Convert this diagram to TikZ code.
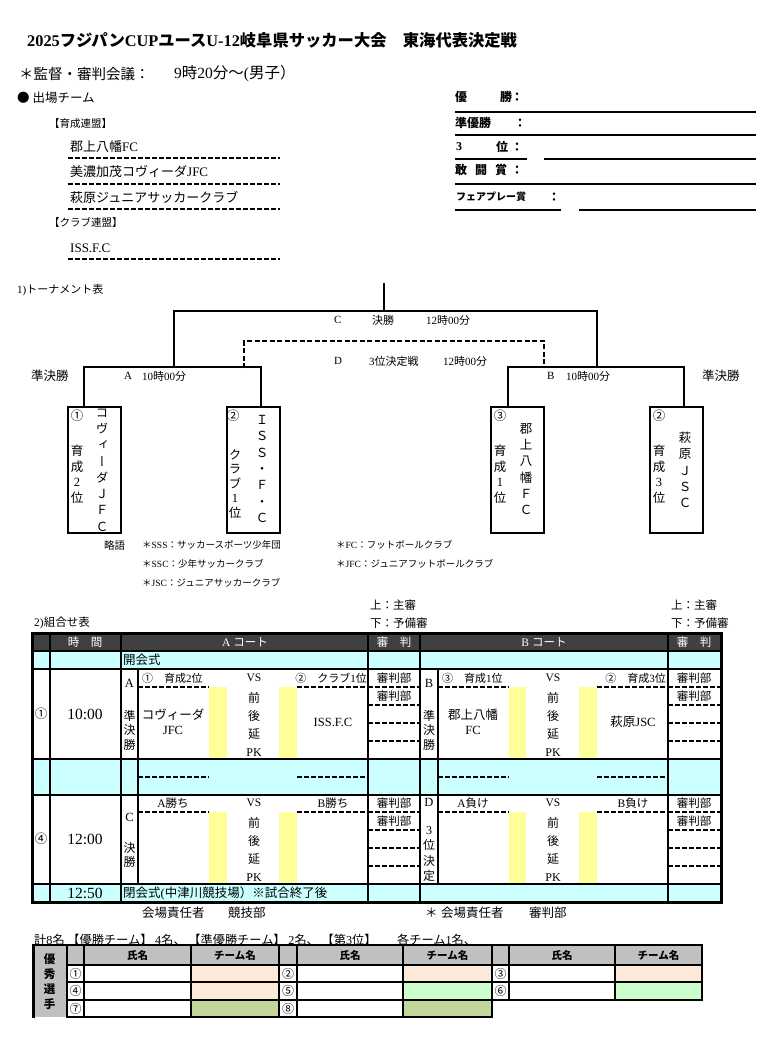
\documentclass[tikz,border=0pt]{standalone}
\usepackage{fontspec}
\setmainfont{Liberation Serif}
\newfontfamily\jpfont{Noto Sans CJK JP}
\newfontfamily\jpvfont[RawFeature=+vert]{Noto Sans CJK JP}
\let\cjksw\jpfont
\XeTeXinterchartokenstate=1
\newXeTeXintercharclass\cjkcls
\newcount\cjkcc
\def\setcls#1#2{\cjkcc=#1\relax\loop\XeTeXcharclass\cjkcc=\cjkcls\relax\ifnum\cjkcc<#2\advance\cjkcc by 1\relax\repeat}
\setcls{"3000}{"30FF}
\setcls{"4E00}{"9FFF}
\setcls{"FF01}{"FF60}
\setcls{"2460}{"24FF}
\setcls{"25A0}{"25FF}
\XeTeXcharclass"203B=\cjkcls
\XeTeXinterchartoks 0 \cjkcls={\cjksw}
\XeTeXinterchartoks 4095 \cjkcls={\cjksw}
\XeTeXinterchartoks \cjkcls 0={\rmfamily}
\XeTeXinterchartoks 4095 0={\rmfamily}
\newcommand\fz[1]{\fontsize{#1}{#1}\selectfont}
\newcommand\fzl[2]{\fontsize{#1}{#2}\selectfont}
\definecolor{cyanbg}{HTML}{CCFFFF}
\definecolor{hdr}{HTML}{404040}
\definecolor{ylw}{HTML}{FFFF99}
\definecolor{gry}{HTML}{C0C0C0}
\definecolor{peach}{HTML}{FDE9D9}
\definecolor{lgrn}{HTML}{CCFFCC}
\definecolor{olv}{HTML}{C4D79B}
\begin{document}
\begin{tikzpicture}[x=1pt,y=-1pt,
  tx/.style={inner sep=0pt,anchor=west},
  tr/.style={inner sep=0pt,anchor=east},
  tc/.style={inner sep=0pt},
  vt/.style={inner sep=0pt,align=center},
  bk/.style={line width=2pt},
  dsh/.style={line width=1.6pt,dash pattern=on 5pt off 2pt},
  tbox/.style={draw,line width=2pt,minimum width=53pt,minimum height=126pt,inner sep=0pt},
  tl/.style={line width=2pt},
  wt/.style={inner sep=0pt,text=white,font=\fz{11.5}}]
\useasboundingbox (0,0) rectangle (772,1038);
\fill[white] (0,0) rectangle (772,1038);

% ---------- header ----------
\node[tx,font=\bfseries\fz{16.3}] (title) at (27,40) {2025フジパンCUPユースU-12岐阜県サッカー大会　東海代表決定戦};
\node[tx,font=\fz{14.5}] (meet) at (19,74) {＊監督・審判会議：};
\node[tx,font=\fz{15.5}] (meett) at (174,74) {9時20分～(男子）};
\node[tx,font=\fz{12.5}] (teams) at (17,98) {● 出場チーム};
\node[tx,font=\fz{10.5}] (ikusei) at (49,124) {【育成連盟】};
\node[tx,font=\fz{13}] (t1) at (70,147) {郡上八幡FC};
\node[tx,font=\fz{13}] (t2) at (70,172) {美濃加茂コヴィーダJFC};
\node[tx,font=\fz{13}] (t3) at (70,197) {萩原ジュニアサッカークラブ};
\node[tx,font=\fz{10.5}] (club) at (49,222) {【クラブ連盟】};
\node[tx,font=\fz{13}] (t4) at (70,248) {ISS.F.C};
\draw[dsh] foreach \y in {158,184,209,259} {(68,\y) -- (280,\y)};

% awards
\begin{scope}[every node/.style={inner sep=0pt,anchor=west,font=\bfseries\fz{12}}]
\node (aw1a) at (455,97) {優};
\node (aw1b) at (500,97) {勝};
\node (aw1c) at (511,97) {：};
\node (aw2a) at (455,123) {準優勝};
\node (aw2c) at (514,123) {：};
\node (aw3a) at (456,147) {3};
\node (aw3b) at (496,147) {位};
\node (aw3c) at (511,147) {：};
\node (aw4a) at (455,170) {敢};
\node (aw4b) at (475,170) {闘};
\node (aw4c) at (495,170) {賞};
\node (aw4d) at (511,170) {：};
\node[font=\bfseries\fz{10}] (aw5a) at (456,197) {フェアプレー賞};
\node (aw5c) at (548,197) {：};
\end{scope}
\draw[line width=1.3pt] (455,112) -- (756,112) (455,135) -- (756,135)
  (455,159) -- (527,159) (544,159) -- (756,159) (455,184) -- (756,184)
  (455,210) -- (561,210) (579,210) -- (756,210);

% ---------- tournament ----------
\node[tx,font=\fz{11}] (trn) at (17,290) {1)トーナメント表};
\node[tbox] (b1) at (94.5,470) {};
\node[tbox] (b2) at (253,470) {};
\node[tbox] (b3) at (517.5,470) {};
\node[tbox] (b4) at (676.5,470) {};
\coordinate (fin) at (384,283);
\coordinate (cC) at (384,311);
\coordinate (sA) at (174,368);
\coordinate (sB) at (597,368);
\coordinate (dA) at (244,368);
\coordinate (dB) at (544,368);
\draw[bk] ([xshift=17pt]b1.north west) -- ++(0,-39) -| ([xshift=35pt]b2.north west);
\draw[bk] ([xshift=18pt]b3.north west) -- ++(0,-39) -| ([xshift=35pt]b4.north west);
\draw[bk] (sA) |- (cC) -| (sB);
\draw[bk] (fin) -- (cC);
\draw[line width=2pt,dash pattern=on 5pt off 2.5pt] (dA) -- ++(0,-27) -| (dB);

\begin{scope}[every node/.style={inner sep=0pt,anchor=west,font=\fz{11}}]
\node (lC) at (334,320) {C};
\node (lCf) at (372,320) {決勝};
\node (lCt) at (426,320) {12時00分};
\node (lD) at (334,361) {D};
\node (lDf) at (369,361) {3位決定戦};
\node (lDt) at (443,361) {12時00分};
\node[font=\fz{12.5}] (sfL) at (31,376) {準決勝};
\node[font=\fz{12.5}] (sfR) at (702,376) {準決勝};
\node (lA) at (124,376) {A};
\node (lAt) at (142,376) {10時00分};
\node (lB) at (547,376) {B};
\node (lBt) at (566,376) {10時00分};
\end{scope}

\begin{scope}[every node/.style={inner sep=0pt,align=center,font={\fzl{12.5}{16.3}\let\cjksw\jpvfont}}]
\node (n1) at (77,416) {①};
\node[font={\fzl{12.5}{15.5}\let\cjksw\jpvfont}] (b1l) at (77,474) {育\\成\\2\\位};
\node (b1r) at (102,470) {コ\\ヴ\\ィ\\ー\\ダ\\Ｊ\\Ｆ\\Ｃ};
\node (n2) at (233,416) {②};
\node[font={\fzl{12.5}{14.5}\let\cjksw\jpvfont}] (b2l) at (235,484) {ク\\ラ\\ブ\\1\\位};
\node (b2r) at (262,469) {Ｉ\\Ｓ\\Ｓ\\・\\Ｆ\\・\\Ｃ};
\node (n3) at (500,416) {③};
\node[font={\fzl{12.5}{15.5}\let\cjksw\jpvfont}] (b3l) at (500,474) {育\\成\\1\\位};
\node (b3r) at (526,469) {郡\\上\\八\\幡\\Ｆ\\Ｃ};
\node (n4) at (659,416) {②};
\node[font={\fzl{12.5}{15.5}\let\cjksw\jpvfont}] (b4l) at (659,474) {育\\成\\3\\位};
\node (b4r) at (685,470) {萩\\原\\Ｊ\\Ｓ\\Ｃ};
\end{scope}

\begin{scope}[every node/.style={inner sep=0pt,anchor=west,font=\fz{9.5}}]
\node[font=\fz{10.5}] (ryaku) at (104,545) {略語};
\node (ab1) at (142,545) {＊SSS：サッカースポーツ少年団};
\node (ab2) at (142,564) {＊SSC：少年サッカークラブ};
\node (ab3) at (142,583) {＊JSC：ジュニアサッカークラブ};
\node (ab4) at (336,545) {＊FC：フットボールクラブ};
\node (ab5) at (336,564) {＊JFC：ジュニアフットボールクラブ};
\end{scope}

% ---------- schedule table ----------
\begin{scope}[every node/.style={inner sep=0pt,anchor=west,font=\fz{11.5}}]
\node (kumi) at (34,623) {2)組合せ表};
\node (ue1) at (370,605) {上：主審};
\node (sh1) at (370,623) {下：予備審};
\node (ue2) at (671,605) {上：主審};
\node (sh2) at (671,623) {下：予備審};
\end{scope}

\fill[hdr] (32,633) rectangle (721,651);
\fill[cyanbg] (32,651) rectangle (721,669);
\fill[cyanbg] (32,759) rectangle (721,795);
\fill[cyanbg] (32,884) rectangle (721,902);
\foreach \a/\b in {209/227,279/297,509/526,579/597}{
  \fill[ylw] (\a,687) rectangle (\b,759);
  \fill[ylw] (\a,812) rectangle (\b,884);}
\draw[tl] foreach \y in {651,669,759,795,884} {(32,\y) -- (721,\y)};
\draw[tl] foreach \x in {50,121,368,420,668} {(\x,633) -- (\x,902)};
\draw[tl] foreach \x in {138,438} {(\x,669) -- (\x,884)};
\draw[dsh] foreach \y in {687,777,812} {(138,\y) -- (209,\y) (297,\y) -- (368,\y) (438,\y) -- (509,\y) (597,\y) -- (668,\y)};
\draw[dsh] foreach \y in {687,705,723,741,812,830,848,866} {(368,\y) -- (420,\y) (668,\y) -- (721,\y)};
\draw[line width=3pt] (32,633) rectangle (721,902);

\node[wt] (h1) at (85,642) {時　間};
\node[wt] (h2) at (245,642) {A コート};
\node[wt] (h3) at (394,642) {審　判};
\node[wt] (h4) at (544,642) {B コート};
\node[wt] (h5) at (694,642) {審　判};

\begin{scope}[every node/.style={inner sep=0pt,font=\fz{11.5}}]
\node[anchor=west,font=\fz{12.5}] (kai) at (123,660) {開会式};
\node[font=\fz{12.5}] (r1n) at (41,714) {①};
\node[font=\fz{15.5}] (r1t) at (85,714) {10:00};
\node[font=\fz{12.5}] (r1a) at (129.5,683) {A};
\node[align=center,font=\fzl{12}{14.5}] (r1al) at (129.5,730) {準\\決\\勝};
\node[anchor=west,font=\fz{11}] (r1h1) at (142,678) {①　育成2位};
\node (r1vs) at (254,678) {VS};
\node[anchor=east,font=\fz{11}] (r1h2) at (367,678) {②　クラブ1位};
\node[align=center,font=\fzl{12}{18}] (r1c) at (254,724) {前\\後\\延\\PK};
\node[align=center,font=\fzl{12.5}{15}] (r1tA) at (173,722) {コヴィーダ\\JFC};
\node[font=\fz{12.5}] (r1tB) at (333,722) {ISS.F.C};
\node (r1ref1) at (394,678) {審判部};
\node (r1ref2) at (394,696) {審判部};
\node[font=\fz{12.5}] (r1b) at (429,683) {B};
\node[align=center,font=\fzl{12}{14.5}] (r1bl) at (429,730) {準\\決\\勝};
\node[anchor=west,font=\fz{11}] (r1h3) at (442,678) {③　育成1位};
\node (r1vs2) at (553,678) {VS};
\node[anchor=east,font=\fz{11}] (r1h4) at (666,678) {②　育成3位};
\node[align=center,font=\fzl{12}{18}] (r1c2) at (553,724) {前\\後\\延\\PK};
\node[align=center,font=\fzl{12.5}{15}] (r1tC) at (473,722) {郡上八幡\\FC};
\node[font=\fz{12.5}] (r1tD) at (633,722) {萩原JSC};
\node (r1ref3) at (694,678) {審判部};
\node (r1ref4) at (694,696) {審判部};

\node[font=\fz{12.5}] (r2n) at (41,839) {④};
\node[font=\fz{15.5}] (r2t) at (85,839) {12:00};
\node[font=\fz{12.5}] (r2a) at (129.5,817) {C};
\node[align=center,font=\fzl{12}{14.5}] (r2al) at (129.5,855) {決\\勝};
\node (r2h1) at (173,803) {A勝ち};
\node (r2vs) at (254,803) {VS};
\node (r2h2) at (333,803) {B勝ち};
\node[align=center,font=\fzl{12}{18}] (r2c) at (254,849) {前\\後\\延\\PK};
\node (r2ref1) at (394,803) {審判部};
\node (r2ref2) at (394,821) {審判部};
\node[font=\fz{12.5}] (r2b) at (429,802) {D};
\node[align=center,font=\fzl{12}{15.6}] (r2bl) at (429,854) {3\\位\\決\\定};
\node (r2h3) at (473,803) {A負け};
\node (r2vs2) at (553,803) {VS};
\node (r2h4) at (633,803) {B負け};
\node[align=center,font=\fzl{12}{18}] (r2c2) at (553,849) {前\\後\\延\\PK};
\node (r2ref3) at (694,803) {審判部};
\node (r2ref4) at (694,821) {審判部};

\node[font=\fz{15.5}] (r3t) at (85,893) {12:50};
\node[anchor=west,font=\fz{12.5}] (hei) at (123,893) {閉会式(中津川競技場）※試合終了後};
\node[anchor=west,font=\fz{12.5}] (resp1) at (142,913) {会場責任者};
\node[anchor=west,font=\fz{12.5}] (resp1b) at (228,913) {競技部};
\node[anchor=west,font=\fz{12.5}] (resp2s) at (425,913) {＊};
\node[anchor=west,font=\fz{12.5}] (resp2) at (441,913) {会場責任者};
\node[anchor=west,font=\fz{12.5}] (resp2b) at (529,913) {審判部};
\end{scope}

% ---------- players table ----------
\node[tx,font=\fz{12.2}] (kei) at (34,940) {計8名 【優勝チーム】 4名、 【準優勝チーム】 2名、 【第3位】};
\node[tx,font=\fz{12.2}] (kaku) at (397,940) {各チーム1名、};

\fill[gry] (32,945) rectangle (67,1017);
\fill[gry] (67,945) rectangle (702,965);
\fill[peach] (191,965) rectangle (279,982);
\fill[peach] (403,965) rectangle (492,982);
\fill[peach] (615,965) rectangle (702,982);
\fill[peach] (191,982) rectangle (279,1000);
\fill[lgrn] (403,982) rectangle (492,1000);
\fill[lgrn] (615,982) rectangle (702,1000);
\fill[olv] (191,1000) rectangle (279,1017);
\fill[olv] (403,1000) rectangle (492,1017);
\draw[line width=2.5pt] (32,945) -- (703,945);
\draw[line width=3pt] (33.5,944) -- (33.5,1018);
\draw[tl] foreach \y in {965,982,1000} {(67,\y) -- (702,\y)};
\draw[line width=2.5pt] (66,1017) -- (493,1017);
\draw[tl] foreach \x in {67,84,191,279,297,403} {(\x,945) -- (\x,1017)};
\draw[line width=2.5pt] (492,945) -- (492,1018);
\draw[tl] foreach \x in {509,615} {(\x,945) -- (\x,1000)};
\draw[line width=2.5pt] (702,944) -- (702,1001);

\begin{scope}[every node/.style={inner sep=0pt,font=\bfseries\fz{10.5}}]
\node[align=center,font=\bfseries\fzl{11.5}{15}] (yu) at (49.5,982) {優\\秀\\選\\手};
\node (hn1) at (137.5,955) {氏名};
\node (hm1) at (235,955) {チーム名};
\node (hn2) at (350,955) {氏名};
\node (hm2) at (447.5,955) {チーム名};
\node (hn3) at (562,955) {氏名};
\node (hm3) at (658.5,955) {チーム名};
\end{scope}
\begin{scope}[every node/.style={inner sep=0pt,font=\fz{12}}]
\node (p1) at (75.5,973.5) {①};
\node (p2) at (288,973.5) {②};
\node (p3) at (500.5,973.5) {③};
\node (p4) at (75.5,991) {④};
\node (p5) at (288,991) {⑤};
\node (p6) at (500.5,991) {⑥};
\node (p7) at (75.5,1008.5) {⑦};
\node (p8) at (288,1008.5) {⑧};
\end{scope}
\end{tikzpicture}
\end{document}
